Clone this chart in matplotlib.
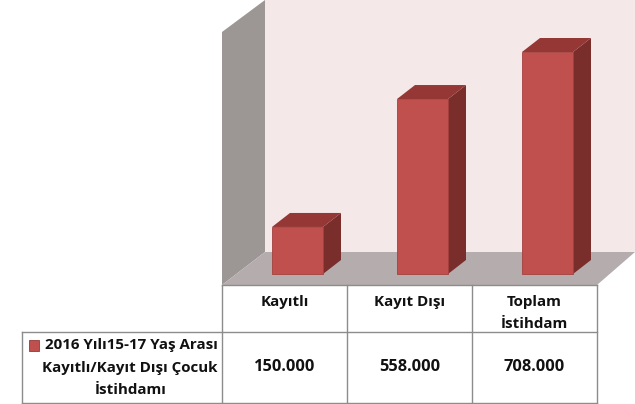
import matplotlib
matplotlib.use("Agg")
import matplotlib.pyplot as plt
from matplotlib.patches import Polygon, Rectangle

categories = ["Kayıtlı", "Kayıt Dışı", "Toplam\nİstihdam"]
values = [150000, 558000, 708000]
value_labels = ["150.000", "558.000", "708.000"]
series_name = "2016 Yılı15-17 Yaş Arası\nKayıtlı/Kayıt Dışı Çocuk\nİstihdamı"

plt.rcParams['font.family'] = ['Open Sans', 'DejaVu Sans']
fig = plt.figure(figsize=(6.35, 4.04), dpi=100)
ax = fig.add_axes([0, 0, 1, 1])
ax.set_xlim(0, 635)
ax.set_ylim(404, 0)
ax.axis("off")

WALL, SIDE, FLOOR = "#F5E8E8", "#9C9795", "#B5ADAD"
BAR, BAR_TOP, BAR_SIDE = "#C0504D", "#953735", "#7A2E2C"
GRID = "#8C8C8C"
INK = "#111111"

# chart box
left, right, base_front, base_back = 222, 597, 285, 252
dx, dy = 43, -33
ax.add_patch(Polygon([(left + dx, 0), (635, 0), (635, base_back), (left + dx, base_back)], fc=WALL, ec="none"))
ax.add_patch(Polygon([(left, 32), (left + dx, 0), (left + dx, base_back), (left, base_front)], fc=SIDE, ec="none"))
ax.add_patch(Polygon([(left, base_front), (left + dx, base_back), (635, base_back), (right, base_front)], fc=FLOOR, ec="none"))

# bars
bar_base = 274
scale = (274 - 52) / 708000
col_w = 125
bar_w = 51
bar_off = 50
ddx, ddy = 18, -14
for i, v in enumerate(values):
    x0 = left + col_w * i + bar_off
    y0 = bar_base - v * scale
    x1 = x0 + bar_w
    ax.add_patch(Polygon([(x1, y0), (x1 + ddx, y0 + ddy), (x1 + ddx, bar_base + ddy), (x1, bar_base)], fc=BAR_SIDE, ec="none"))
    ax.add_patch(Polygon([(x0, y0), (x0 + ddx, y0 + ddy), (x1 + ddx, y0 + ddy), (x1, y0)], fc=BAR_TOP, ec="none"))
    ax.add_patch(Rectangle((x0, y0), bar_w, bar_base - y0, fc=BAR, ec="#A5403E", lw=0.6))

# table
t_top, t_mid, t_bot, t_left = 285, 332, 403, 22
ax.plot([left, right], [t_top, t_top], color=GRID, lw=1)
ax.plot([t_left, right], [t_mid, t_mid], color=GRID, lw=1)
ax.plot([t_left, right], [t_bot, t_bot], color=GRID, lw=1)
ax.plot([t_left, t_left], [t_mid, t_bot], color=GRID, lw=1)
for i in range(len(categories) + 1):
    x = left + col_w * i
    ax.plot([x, x], [t_top, t_bot], color=GRID, lw=1)

fs = 10.9
for i, (c, lab) in enumerate(zip(categories, value_labels)):
    xc = left + col_w * i + col_w / 2
    parts = c.split("\n")
    for j, p in enumerate(parts):
        ax.text(xc, 302 + 22 * j, p, ha="center", va="center", fontsize=fs, fontweight="bold", color=INK)
    ax.text(xc, 367, lab, ha="center", va="center", fontsize=fs + 0.9, fontweight="bold", color=INK)

lines = series_name.split("\n")
ax.add_patch(Rectangle((29, 340), 10, 11, fc=BAR, ec="#953735", lw=0.6))
for y, line, xc in zip([345, 368, 390], lines, [131, 130, 131]):
    ax.text(xc, y, line, ha="center", va="center", fontsize=fs, fontweight="bold", color=INK)

fig.savefig("out.png", dpi=100)
